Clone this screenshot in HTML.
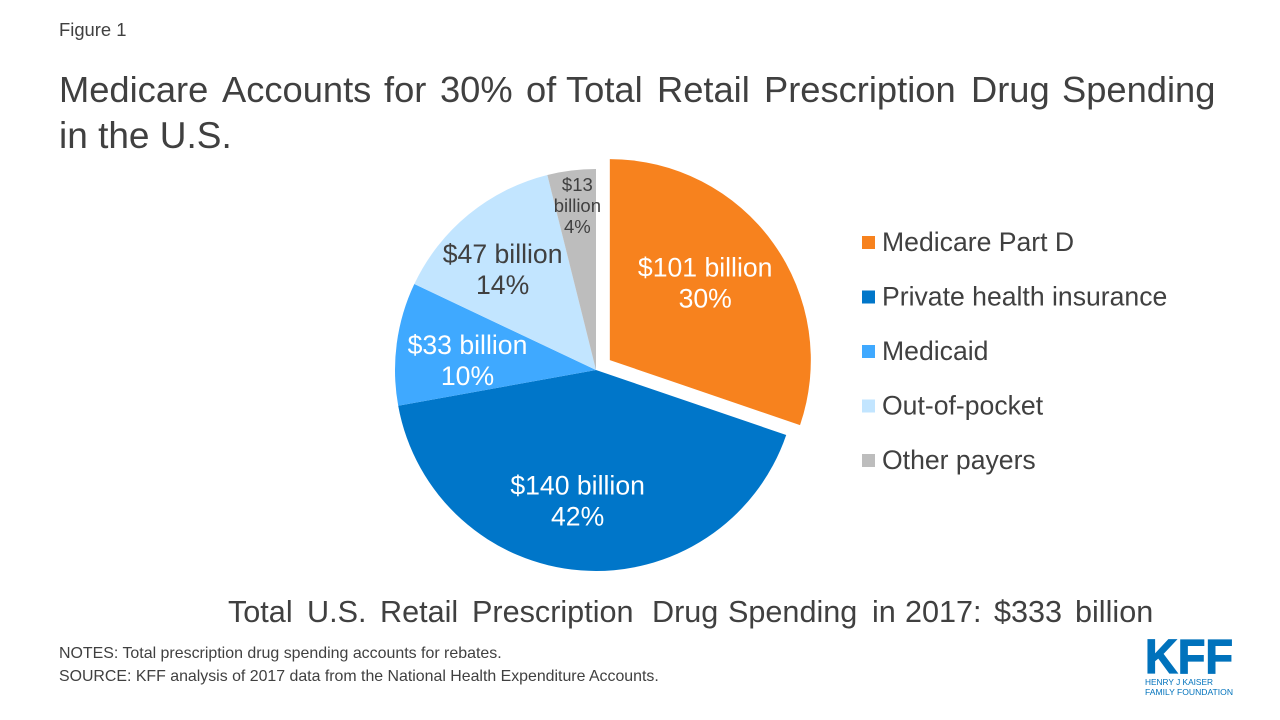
<!DOCTYPE html>
<html>
<head>
<meta charset="utf-8">
<style>
html,body{margin:0;padding:0;background:#fff}
#stage{position:relative;width:1280px;height:720px;overflow:hidden;background:#fff;font-family:"Liberation Sans",sans-serif;color:#404040}
svg{position:absolute;left:0;top:0}
text{font-family:"Liberation Sans",sans-serif;fill:#404040}
</style>
</head>
<body>
<div id="stage">
<svg id="chart" width="1280" height="720" viewBox="0 0 1280 720">
  <text x="59" y="36" font-size="18.4">Figure 1</text>
  <text y="102" font-size="36.3"><tspan x="59">Medicare</tspan> <tspan x="222">Accounts</tspan> <tspan x="384">for</tspan> <tspan x="440">30%</tspan> <tspan x="526">of</tspan> <tspan x="566">Total</tspan> <tspan x="657">Retail</tspan> <tspan x="764">Prescription</tspan> <tspan x="971">Drug</tspan> <tspan x="1062">Spending</tspan></text>
  <text x="59" y="148" font-size="37">in the U.S.</text>
  <g id="pie"></g>
  <g id="pie-labels"></g>
  <g id="legend"></g>
  <text y="622" font-size="30.6"><tspan x="228">Total</tspan> <tspan x="307">U.S.</tspan> <tspan x="380">Retail</tspan> <tspan x="472">Prescription</tspan> <tspan x="652">Drug</tspan> <tspan x="728">Spending</tspan> <tspan x="872">in</tspan> <tspan x="905">2017:</tspan> <tspan x="994">$333</tspan> <tspan x="1075">billion</tspan></text>
  <text x="59" y="658" font-size="15.95">NOTES: Total prescription drug spending accounts for rebates.</text>
  <text x="59" y="681" font-size="15.9">SOURCE: KFF analysis of 2017 data from the National Health Expenditure Accounts.</text>
  <g>
    <text x="1145" y="673" font-size="48" font-weight="bold" textLength="88" lengthAdjust="spacingAndGlyphs" style="fill:#0072bc;stroke:#0072bc;stroke-width:1.2">KFF</text>
    <text x="1145" y="685" font-size="8.5" textLength="68" lengthAdjust="spacingAndGlyphs" style="fill:#0072bc">HENRY J KAISER</text>
    <text x="1145" y="695" font-size="8.5" textLength="88" lengthAdjust="spacingAndGlyphs" style="fill:#0072bc">FAMILY FOUNDATION</text>
  </g>
</svg>
</div>
<script>
const categories = ['Medicare Part D', 'Private health insurance', 'Medicaid', 'Out-of-pocket', 'Other payers'];
const spending = [101, 140, 33, 47, 13];
const amountLabels = ['$101 billion', '$140 billion', '$33 billion', '$47 billion', '$13 billion'];
const shareLabels = ['30%', '42%', '10%', '14%', '4%'];
const colors = ['#f7821e', '#0076c9', '#3fa9ff', '#c2e5ff', '#bdbdbd'];

const NS = 'http://www.w3.org/2000/svg';
const cx = 596, cy = 370, radius = 201, explode = 17;
const pieGroup = document.getElementById('pie');
const labelGroup = document.getElementById('pie-labels');
const legendGroup = document.getElementById('legend');
const total = spending.reduce(function (a, b) { return a + b; }, 0);

function polar(x, y, r, turn) {
  const a = turn * 2 * Math.PI;
  return [x + r * Math.sin(a), y - r * Math.cos(a)];
}
function slug(s) {
  return s.toLowerCase().replace(/[^a-z0-9]+/g, '-');
}
function addLabel(x, y, str, size, fill, nameStr) {
  const t = document.createElementNS(NS, 'text');
  t.setAttribute('x', x);
  t.setAttribute('y', y);
  t.setAttribute('text-anchor', 'middle');
  t.setAttribute('font-size', size);
  t.style.fill = fill;
  t.textContent = str;
  
  
  labelGroup.appendChild(t);
}

let cum = 0;
spending.forEach(function (v, i) {
  const start = cum / total;
  const end = (cum + v) / total;
  cum += v;
  const mid = (start + end) / 2;
  const off = i === 0 ? polar(0, 0, explode, mid) : [0, 0];
  const x0 = cx + off[0], y0 = cy + off[1];
  const p1 = polar(x0, y0, radius, start);
  const p2 = polar(x0, y0, radius, end);
  const large = end - start > 0.5 ? 1 : 0;
  const path = document.createElementNS(NS, 'path');
  path.setAttribute('d', 'M' + x0 + ' ' + y0 + 'L' + p1[0] + ' ' + p1[1] + 'A' + radius + ' ' + radius + ' 0 ' + large + ' 1 ' + p2[0] + ' ' + p2[1] + 'Z');
  path.setAttribute('fill', colors[i]);
  
  
  pieGroup.appendChild(path);

  const ly = 251 + i * 54.5;
  const sw = document.createElementNS(NS, 'rect');
  sw.setAttribute('x', 862);
  sw.setAttribute('y', ly - 15);
  sw.setAttribute('width', 13);
  sw.setAttribute('height', 13);
  sw.setAttribute('fill', colors[i]);
  
  
  legendGroup.appendChild(sw);
  const lt = document.createElementNS(NS, 'text');
  lt.setAttribute('x', 882);
  lt.setAttribute('y', ly);
  lt.setAttribute('font-size', 26.6);
  lt.textContent = categories[i];
  
  
  legendGroup.appendChild(lt);

  const lightText = i < 3;
  const fill = lightText ? '#ffffff' : '#404040';
  if (i === 4) {
    const c = polar(x0, y0, 165, mid);
    const parts = amountLabels[i].split(' ');
    addLabel(c[0] + 1.5, 191, parts[0], 18.5, fill, 'label-amount-' + slug(categories[i]));
    addLabel(c[0] + 1.5, 212, parts[1], 18.5, fill, 'label-unit-' + slug(categories[i]));
    addLabel(c[0] + 1.5, 233, shareLabels[i], 18.5, fill, 'label-share-' + slug(categories[i]));
  } else {
    const frac = [0.62, 0.62, 0.65, 0.67][i];
    const nudgeX = [-6, -9, 1, -8][i];
    const nudgeY = [-5, 6, 7, 3][i];
    const c = polar(x0, y0, radius * frac, mid);
    addLabel(c[0] + nudgeX, c[1] - 6 + nudgeY, amountLabels[i], 26.6, fill, 'label-amount-' + slug(categories[i]));
    addLabel(c[0] + nudgeX, c[1] + 25 + nudgeY, shareLabels[i], 26.6, fill, 'label-share-' + slug(categories[i]));
  }
});
</script>
</body>
</html>
